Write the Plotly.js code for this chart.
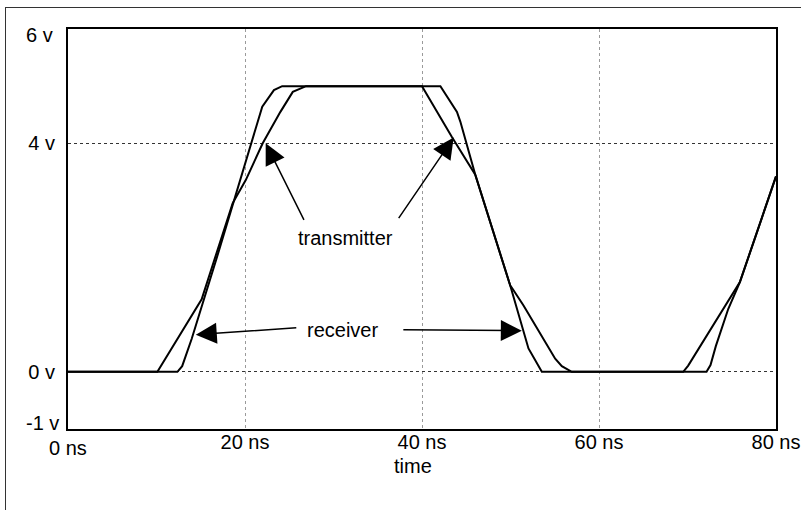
<!DOCTYPE html>
<html><head><meta charset="utf-8">
<script src="https://cdn.plot.ly/plotly-3.0.1.min.js"></script>
<style>
html,body{margin:0;padding:0;background:#fff;}
#chart{position:absolute;left:0;top:0;width:801px;height:510px;}
#frame{position:absolute;left:5px;top:7px;width:800px;height:510px;border-left:1px solid #333;border-top:1px solid #333;pointer-events:none;}
</style></head><body>
<div id="chart"></div>
<div id="frame"></div>
<script>
// time in ns, voltage in V
const txTime = [0, 10.1, 15.1, 18.6, 20.1, 22.0, 24.0, 25.4, 26.9, 40.0, 43.38, 46.02, 49.97, 50.12, 51.47, 55.05, 55.8, 56.92, 69.52, 70.08, 75.92, 80];
const txVolt = [0, 0, 1.27, 2.95, 3.36, 4.0, 4.55, 4.9, 5.0, 5.0, 4.11, 3.45, 1.51, 1.48, 1.16, 0.23, 0.10, 0, 0, 0.11, 1.57, 3.42];
const rxTime = [0, 12.36, 12.9, 13.68, 13.98, 16.76, 20.64, 21.95, 23.27, 24.2, 42.08, 43.95, 44.33, 46.02, 49.97, 51.47, 52.03, 53.54, 72.15, 72.6, 73.2, 74.6, 75.92, 80];
const rxVolt = [0, 0, 0.1, 0.43, 0.58, 1.97, 4.0, 4.64, 4.93, 5.0, 5.0, 4.55, 4.38, 3.45, 1.51, 0.70, 0.41, 0, 0, 0.12, 0.45, 1.1, 1.57, 3.42];

const xTickVals = [0, 20, 40, 60, 80];
const xTickText = ['0 ns', '20 ns', '40 ns', '60 ns', '80 ns'];
const yTickVals = [-1, 0, 4, 6];
const yTickText = ['-1 v', '0 v', '4 v', '6 v'];
const xTitle = 'time';

const seriesNames = ['transmitter', 'receiver'];
// arrow tips [time, volt] for each label
const txArrowTips = [[22.34, 4.0], [43.58, 4.10]];
const rxArrowTips = [[14.44, 0.65], [51.28, 0.72]];
const labelPos = [[31.3, 2.345], [30.96, 0.735]];

const FONT = '"Liberation Sans", Arial, Helvetica, sans-serif';
const FS = 20;
const lineStyle = {color: '#000', width: 2};

const traces = [
  {x: txTime, y: txVolt, name: seriesNames[0], mode: 'lines', line: lineStyle, hoverinfo: 'skip'},
  {x: rxTime, y: rxVolt, name: seriesNames[1], mode: 'lines', line: lineStyle, hoverinfo: 'skip'}
];

function arrow(tip, ax, ay) {
  return {x: tip[0], y: tip[1], xref: 'x', yref: 'y', ax: ax, ay: ay, text: '',
    showarrow: true, arrowhead: 2, arrowsize: 2.8, arrowwidth: 1.5, arrowcolor: '#000', standoff: 0};
}

const annotations = [
  {x: labelPos[0][0], y: labelPos[0][1], xref: 'x', yref: 'y', text: seriesNames[0], showarrow: false},
  {x: labelPos[1][0], y: labelPos[1][1], xref: 'x', yref: 'y', text: seriesNames[1], showarrow: false},
  arrow(txArrowTips[0], 39, 78),
  arrow(txArrowTips[1], -56, 82),
  arrow(rxArrowTips[0], 102, -7),
  arrow(rxArrowTips[1], -120, -1),
  // labels drawn apart from the axis ticks because of their offsets in the original
  {x: xTickVals[0], y: 0, xref: 'x', yref: 'paper', yanchor: 'top', yshift: -6, text: xTickText[0], showarrow: false},
  {x: -0.062, y: yTickVals[3], xref: 'paper', yref: 'y', xanchor: 'left', yshift: -5.5, text: yTickText[3], showarrow: false},
  {x: -0.062, y: yTickVals[0], xref: 'paper', yref: 'y', xanchor: 'left', yshift: 6.5, text: yTickText[0], showarrow: false},
  {x: (412.5 - 68) / 708, y: 0, xref: 'paper', yref: 'paper', yanchor: 'top', yshift: -24, text: xTitle, showarrow: false}
];

const layout = {
  width: 801, height: 510,
  margin: {l: 68, r: 25, t: 29, b: 81},
  paper_bgcolor: 'rgba(0,0,0,0)', plot_bgcolor: '#fff',
  showlegend: false,
  font: {family: FONT, size: FS, color: '#000'},
  xaxis: {
    range: [0, 80], tickvals: xTickVals, ticktext: xTickText.map((t, i) => i === 0 ? '' : t),
    showgrid: true, gridcolor: '#9a9a9a', griddash: 'dot', gridwidth: 1,
    showline: true, linecolor: '#000', linewidth: 2, mirror: true,
    ticks: '', zeroline: false, fixedrange: true, ticklabelstandoff: -6
  },
  yaxis: {
    range: [-1, 6], tickvals: yTickVals, ticktext: yTickText.map((t, i) => (i === 0 || i === 3) ? '' : t),
    showgrid: true, gridcolor: '#333', griddash: 'dot', gridwidth: 1,
    showline: true, linecolor: '#000', linewidth: 2, mirror: true,
    ticks: '', zeroline: false, fixedrange: true, ticklabelstandoff: 7
  },
  annotations: annotations
};

Plotly.newPlot('chart', traces, layout, {displayModeBar: false, staticPlot: true});
</script>
</body></html>
